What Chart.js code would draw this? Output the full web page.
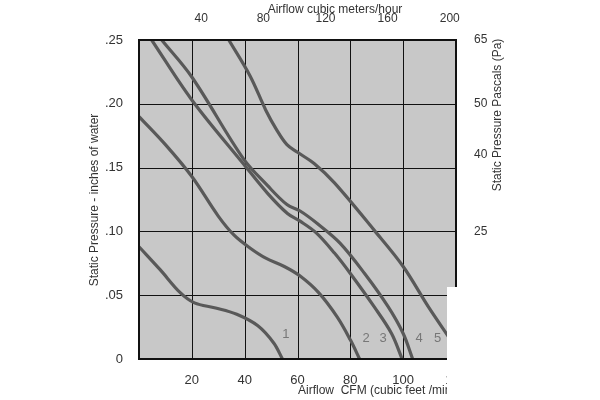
<!DOCTYPE html>
<html><head><meta charset="utf-8">
<script src="https://cdn.jsdelivr.net/npm/chart.js@4.4.0/dist/chart.umd.min.js"></script>
<style>html,body{margin:0;padding:0;background:#fff}#w{width:600px;height:400px}</style>
</head><body><div id="w"><canvas id="c"></canvas></div>
<script>
const curve1 = [[0,.088],[8,.070],[15.6,.052],[21,.044],[29,.040],[37,.035],[45,.026],[51,.0125],[54.3,0]];
const curve2 = [[0,.19],[10,.168],[20,.143],[30,.112],[36,.097],[42,.087],[48,.079],[55,.0725],[61,.065],[68,.052],[75,.033],[80,.015],[83.5,0]];
const curve3 = [[4.8,.25],[20,.203],[39.5,.153],[48.6,.13],[56.2,.114],[61,.108],[67,.099],[74,.083],[80,.067],[89,.041],[95.6,.020],[99.6,0]];
const curve4 = [[8.6,.25],[20,.221],[39.5,.157],[48.6,.136],[56,.121],[61,.116],[67.6,.106],[76,.091],[85.4,.067],[94.3,.041],[100,.020],[103.6,0]];
const curve5 = [[34,.25],[42,.222],[48,.195],[52,.180],[56,.168],[60,.162],[66.4,.153],[74,.138],[89,.101],[100,.0725],[109.5,.041],[117,.018],[119,.012]];
const curveLabels = ['1','2','3','4','5'];
const labelPos = [[55.6,.019],[86,.016],[92.4,.016],[106,.016],[113,.016]];
const cfmTicks = [20,40,60,80,100,120];
const m3hTicks = [40,80,120,160,200];
const inchTicks = [0,.05,.10,.15,.20,.25];
const inchLabels = ['0','.05','.10','.15','.20','.25'];
const paTickPos = [.10,.16,.20,.25];
const paLabels = ['25','40','50','65'];

const F = 'Liberation Sans, Arial, sans-serif';
const toPts = a => a.map(p => ({x:p[0], y:p[1]}));
const mk = d => ({data:toPts(d), borderColor:'#595959', borderWidth:3.2, pointRadius:0, fill:false, tension:0.35});

const deco = {
  id:'deco',
  beforeDatasetsDraw(ch){
    const {ctx, chartArea:a} = ch;
    ctx.save(); ctx.fillStyle='#c8c8c8';
    ctx.fillRect(a.left,a.top,a.right-a.left,a.bottom-a.top);
    ctx.restore();
    const x=ch.scales.x, y=ch.scales.y;
    ctx.save(); ctx.strokeStyle='#111'; ctx.lineWidth=1;
    [20,40,60,80,100].forEach(v=>{const px=Math.round(x.getPixelForValue(v))+.5;ctx.beginPath();ctx.moveTo(px,a.top);ctx.lineTo(px,a.bottom);ctx.stroke();});
    [.05,.10,.15,.20].forEach(v=>{const py=Math.round(y.getPixelForValue(v))+.5;ctx.beginPath();ctx.moveTo(a.left,py);ctx.lineTo(a.right,py);ctx.stroke();});
    ctx.restore();
  },
  afterDatasetsDraw(ch){
    const {ctx, chartArea:a} = ch;
    const x=ch.scales.x, y=ch.scales.y;
    ctx.save();
    ctx.fillStyle='#777'; ctx.font='13px '+F; ctx.textAlign='center'; ctx.textBaseline='middle';
    curveLabels.forEach((t,i)=>ctx.fillText(t,x.getPixelForValue(labelPos[i][0]),y.getPixelForValue(labelPos[i][1])));
    ctx.strokeStyle='#111'; ctx.lineWidth=2;
    ctx.strokeRect(a.left,a.top,a.right-a.left,a.bottom-a.top);
    ctx.fillStyle='#333'; ctx.font='12px '+F;
    ctx.textAlign='center';
    ctx.fillText('Airflow cubic meters/hour', 335, 10);
    ctx.fillText('Airflow  CFM (cubic feet /minute)', 385, 391);
    ctx.save(); ctx.translate(95,200); ctx.rotate(-Math.PI/2); ctx.fillText('Static Pressure - inches of water',0,0); ctx.restore();
    ctx.save(); ctx.translate(498,115); ctx.rotate(-Math.PI/2); ctx.fillText('Static Pressure Pascals (Pa)',0,0); ctx.restore();
    ctx.fillStyle='#fff'; ctx.fillRect(447,287,153,113);
    ctx.restore();
  }
};

new Chart(document.getElementById('c'), {
  type:'line',
  data:{datasets:[mk(curve1),mk(curve2),mk(curve3),mk(curve4),mk(curve5)]},
  options:{
    responsive:true, maintainAspectRatio:false, animation:false,
    layout:{padding:0},
    plugins:{legend:{display:false}, tooltip:{enabled:false}},
    scales:{
      x:{type:'linear', position:'bottom', min:0, max:120,
        afterFit(s){s.height=41;},
        afterBuildTicks(s){s.ticks=cfmTicks.map(v=>({value:v}));},
        grid:{display:false}, border:{display:false},
        ticks:{color:'#333', font:{family:F,size:13}, padding:6, maxRotation:0, callback:v=>String(v)}},
      x2:{type:'linear', position:'top', min:0, max:204,
        afterFit(s){s.height=40;},
        afterBuildTicks(s){s.ticks=m3hTicks.map(v=>({value:v}));},
        grid:{display:false}, border:{display:false},
        ticks:{color:'#333', font:{family:F,size:12}, padding:6, maxRotation:0}},
      y:{type:'linear', position:'left', min:0, max:.25,
        afterFit(s){s.width=139;},
        afterBuildTicks(s){s.ticks=inchTicks.map(v=>({value:v}));},
        grid:{display:false}, border:{display:false},
        ticks:{color:'#333', font:{family:F,size:13}, padding:8, callback:(v)=>inchLabels[inchTicks.findIndex(t=>Math.abs(t-v)<1e-6)]}},
      y2:{type:'linear', position:'right', min:0, max:.25,
        afterFit(s){s.width=144;},
        afterBuildTicks(s){s.ticks=paTickPos.map(v=>({value:v}));},
        grid:{display:false}, border:{display:false},
        ticks:{color:'#333', font:{family:F,size:12}, padding:10, callback:(v)=>paLabels[paTickPos.findIndex(t=>Math.abs(t-v)<1e-6)]}}
    }
  },
  plugins:[deco]
});
</script></body></html>
